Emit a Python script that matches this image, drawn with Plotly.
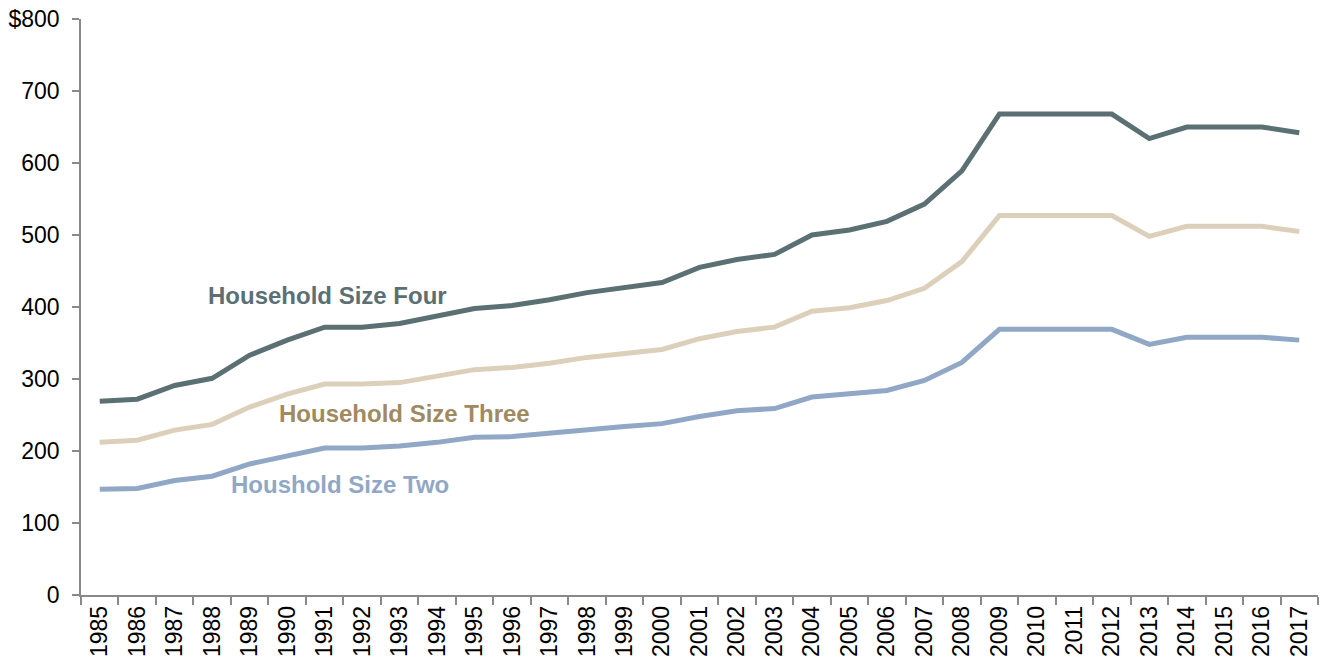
import plotly.graph_objects as go

years = [str(y) for y in range(1985, 2018)]
size_four = [269, 272, 291, 301, 333, 354, 372, 372, 377, 388, 398, 402, 410, 420, 427, 434,
             455, 466, 473, 500, 507, 519, 543, 589, 668, 668, 668, 668, 634, 650, 650, 650, 642]
size_three = [212, 215, 229, 237, 261, 279, 293, 293, 295, 304, 313, 316, 322, 330, 336, 341,
              356, 366, 372, 394, 399, 409, 426, 463, 527, 527, 527, 527, 498, 512, 512, 512, 505]
size_two = [147, 148, 159, 165, 182, 193, 204, 204, 207, 212, 219, 220, 225, 230, 234, 238,
            248, 256, 259, 275, 279, 284, 298, 323, 369, 369, 369, 369, 348, 358, 358, 358, 354]

y_tickvals = [0, 100, 200, 300, 400, 500, 600, 700, 800]
y_ticktext = ["0", "100", "200", "300", "400", "500", "600", "700", "$800"]

c_four = "#5B7073"
c_three = "#DDD0BB"
c_two = "#91A7C6"

fig = go.Figure()
for vals, col in [(size_two, c_two), (size_three, c_three), (size_four, c_four)]:
    fig.add_trace(go.Scatter(x=years, y=vals, mode="lines",
                             line=dict(color=col, width=5), showlegend=False,
                             hoverinfo="x+y"))

font = "Liberation Sans, Arial, sans-serif"
for txt, xp, yv, col in [("<b>Household Size Four</b>", 0.1996, 416, c_four),
                         ("<b>Household Size Three</b>", 0.2619, 252, "#A08A5E"),
                         ("<b>Houshold Size Two</b>", 0.2094, 154, c_two)]:
    fig.add_annotation(text=txt, xref="paper", yref="y", x=xp, y=yv,
                       xanchor="center", yanchor="middle", showarrow=False,
                       font=dict(family=font, size=24, color=col))

fig.update_layout(
    width=1320, height=664,
    margin=dict(l=81, r=2, t=19, b=69),
    paper_bgcolor="white", plot_bgcolor="white",
    font=dict(family=font, size=23, color="#000000"),
)
fig.update_xaxes(
    type="category", range=[-0.5, 32.5], automargin=False,
    showline=True, linecolor="#898989", linewidth=1.5,
    ticks="outside", tickson="boundaries", ticklen=8, tickcolor="#898989", tickwidth=1.5,
    tickangle=-90, showgrid=False, zeroline=False, ticklabeloverflow="allow",
    tickfont=dict(family=font, size=23, color="#000000"),
)
fig.update_yaxes(
    range=[0, 800], tickvals=y_tickvals, ticktext=y_ticktext, automargin=False,
    showline=True, linecolor="#898989", linewidth=1.5,
    ticks="outside", ticklen=7, tickcolor="#898989", tickwidth=1.5,
    showgrid=False, zeroline=False, ticklabelstandoff=8, ticklabeloverflow="allow",
    tickfont=dict(family=font, size=23, color="#000000"),
)

fig.write_html("out.html", config={"displayModeBar": False},
               post_script="document.body.style.margin='0';document.body.style.overflow='hidden';")
